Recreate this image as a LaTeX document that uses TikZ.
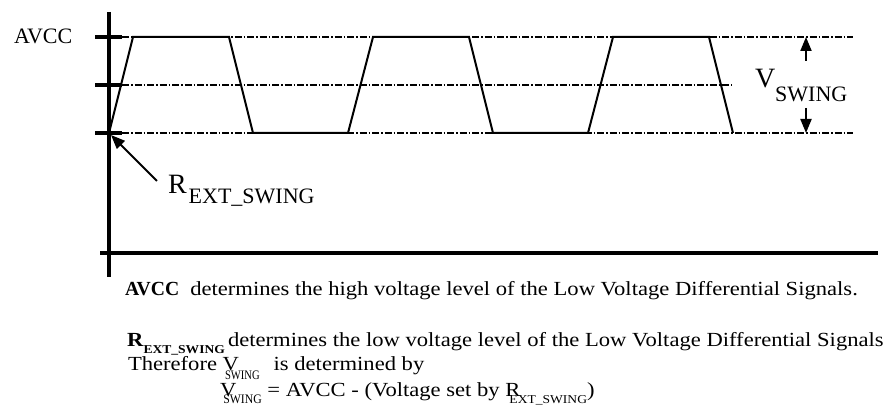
\documentclass[tikz,border=0pt]{standalone}
\usepackage{graphicx}
\usepackage{fontspec}
\setmainfont{Liberation Serif}
\newfontfamily\bodyfont{Liberation Serif}[FakeStretch=1.13]
\usetikzlibrary{arrows.meta}
\newcommand{\fsz}[1]{\fontsize{#1}{#1}\selectfont}
\newcommand{\lowsub}[4]{\raisebox{-#2pt}{\scalebox{#3}[1]{\fsz{#1}#4}}}
\begin{document}
\begin{tikzpicture}[x=1pt,y=-1pt,
  axisline/.style={line width=4pt},
  tickmark/.style={line width=3.5pt},
  levelline/.style={line width=1.4pt, dash pattern=on 7pt off 2pt on 1.5pt off 2pt},
  signalline/.style={line width=2pt, line join=miter},
  pointer/.style={line width=2pt, -{Triangle[length=14pt,width=11pt]}},
  lbl/.style={inner sep=0pt, outer sep=0pt, anchor=base west}]
\useasboundingbox (0,0) rectangle (892,411);

% levels
\coordinate (hiL) at (122,37);  \coordinate (hiR) at (853,37);
\coordinate (miL) at (122,85);  \coordinate (miR) at (732,85);
\coordinate (loL) at (122,133); \coordinate (loR) at (853,133);
\draw[levelline] (hiL) -- (hiR);
\draw[levelline] (miL) -- (miR);
\draw[levelline] (loL) -- (loR);

% signal
\draw[signalline] (109,133) -- (133,37) -- (229,37) -- (253,133) -- (348,133)
  -- (373,37) -- (469,37) -- (493,133) -- (588,133) -- (613,37) -- (709,37) -- (733,133);

% axes
\coordinate (yTop) at (109,12); \coordinate (yBot) at (109,277);
\coordinate (xL) at (100,253);  \coordinate (xR) at (878,253);
\draw[axisline] (yTop) -- (yBot);
\draw[axisline] (xL) -- (xR);
\draw[tickmark] (95,37) -- (122,37);
\draw[tickmark] (95,85) -- (122,85);
\draw[tickmark] (95,133) -- (122,133);

% labels
\node[lbl] (avcc) at (14,44) {\fsz{22}AVCC};
\node[lbl] (rext) at (168,194) {\fsz{28}R\hspace{2pt}\lowsub{22}{10}{1}{EXT\_SWING}};
\node[lbl] (vswing) at (755,88) {\fsz{28}V\lowsub{22}{14}{1}{SWING}};

% pointers
\coordinate (rextFrom) at (157,181); \coordinate (rextTo) at (111,135);
\draw[pointer] (rextFrom) -- (rextTo);
\coordinate (vsUpFrom) at (806,61);  \coordinate (vsUpTo) at (806,37);
\coordinate (vsDnFrom) at (806,108); \coordinate (vsDnTo) at (806,133);
\draw[pointer] (vsUpFrom) -- (vsUpTo);
\draw[pointer] (vsDnFrom) -- (vsDnTo);

% text
\node[lbl] (line1) at (125,296) {\bodyfont\fsz{20}\scalebox{0.87}[1]{\textbf{AVCC}}\hspace{11pt}determines the high voltage level of the Low Voltage Differential Signals.};
\node[lbl] (line2) at (127,347) {\bodyfont\fsz{20}\makebox[101pt][l]{\textbf{R}\lowsub{12}{7}{1}{\bfseries EXT\_SWING}}determines the low voltage level of the Low Voltage Differential Signals};
\node[lbl] (line3) at (128,371) {\bodyfont\fsz{20}Therefore V\hspace{-14pt}\lowsub{13}{9}{0.72}{SWING}\hspace{14pt}is determined by};
\node[lbl] (line4) at (220,397) {\bodyfont\fsz{20}V\hspace{-13pt}\lowsub{13}{7}{0.8}{SWING} = AVCC - (Voltage set by R\hspace{-11pt}\lowsub{12}{7}{1}{EXT\_SWING})};
\end{tikzpicture}
\end{document}
